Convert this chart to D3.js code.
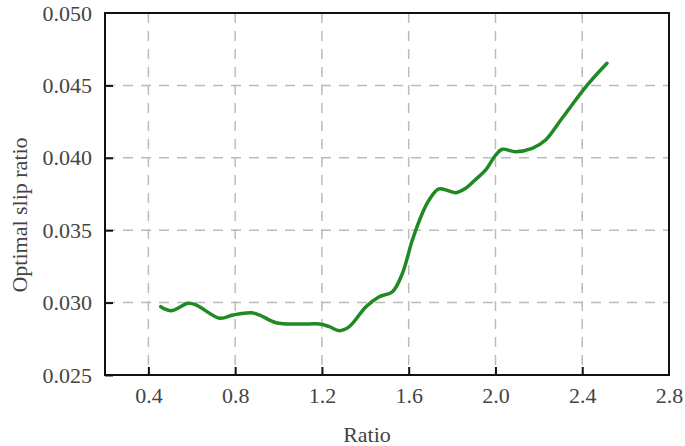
<!DOCTYPE html>
<html>
<head>
<meta charset="utf-8">
<script src="https://cdn.jsdelivr.net/npm/d3@7"></script>
<style>
    body { margin: 0; background: #fff; }
    text { font-family: "Liberation Serif", "Times New Roman", serif; }
</style>
</head>
<body>
<div id="chart"></div>
<script>
// values
const ratio = [0.457, 0.507, 0.583, 0.621, 0.729, 0.79, 0.874, 0.913, 0.989, 1.097, 1.189, 1.234,
    1.28, 1.326, 1.403, 1.464, 1.525, 1.571, 1.617, 1.663, 1.694, 1.74, 1.817, 1.863, 1.909,
    1.955, 2.001, 2.031, 2.093, 2.169, 2.231, 2.307, 2.422, 2.514];
const slip = [0.02972, 0.02944, 0.02995, 0.02983, 0.02892, 0.02914, 0.0293, 0.02914, 0.02861,
    0.02852, 0.02852, 0.02834, 0.02806, 0.02834, 0.02971, 0.03041, 0.03075, 0.03202, 0.03432,
    0.03617, 0.03709, 0.03785, 0.03759, 0.0379, 0.03851, 0.03916, 0.04019, 0.04059, 0.04042,
    0.04065, 0.04123, 0.04273, 0.045, 0.04653];
const xTicks = [0.4, 0.8, 1.2, 1.6, 2.0, 2.4, 2.8];
const yTicks = [0.025, 0.030, 0.035, 0.040, 0.045, 0.050];

const width = 685;
const height = 446;
const margin = { top: 13, right: 16, bottom: 71, left: 105 };

const svg = d3.select("#chart")
    .append("svg")
    .attr("width", width)
    .attr("height", height);

const x = d3.scaleLinear()
    .domain([0.2, 2.8])
    .range([margin.left, width - margin.right]);

const y = d3.scaleLinear()
    .domain([0.025, 0.050])
    .range([height - margin.bottom, margin.top]);

// dashed grid
svg.append("g")
    .selectAll("line")
    .data(xTicks.slice(0, -1))
    .join("line")
    .attr("x1", d => x(d))
    .attr("x2", d => x(d))
    .attr("y1", y(0.050))
    .attr("y2", y(0.025))
    .attr("stroke", "#bbb")
    .attr("stroke-width", 1.5)
    .attr("stroke-dasharray", "10,8");

svg.append("g")
    .selectAll("line")
    .data(yTicks.slice(1, -1))
    .join("line")
    .attr("x1", x(0.2))
    .attr("x2", x(2.8))
    .attr("y1", d => y(d))
    .attr("y2", d => y(d))
    .attr("stroke", "#bbb")
    .attr("stroke-width", 1.5)
    .attr("stroke-dasharray", "10,8");

// axes, ticks pointing inward
const xAxis = svg.append("g")
    .attr("transform", `translate(0,${y(0.025)})`)
    .call(d3.axisBottom(x).tickValues(xTicks).tickFormat(d3.format(".1f")).tickSizeInner(-8).tickSizeOuter(0).tickPadding(12));

const yAxis = svg.append("g")
    .attr("transform", `translate(${x(0.2)},0)`)
    .call(d3.axisLeft(y).tickValues(yTicks).tickFormat(d3.format(".3f")).tickSizeInner(-8).tickSizeOuter(0).tickPadding(13));

[xAxis, yAxis].forEach(g => {
    g.select(".domain").remove();
    g.selectAll(".tick line").attr("stroke", "#111").attr("stroke-width", 2);
    g.selectAll(".tick text")
        .attr("font-size", "22px")
        .attr("fill", "#444")
        .style("font-family", "'Liberation Serif', serif");
});
xAxis.selectAll(".tick").filter(d => d === 2.8).select("line").remove();
yAxis.selectAll(".tick").filter(d => d === 0.050).select("line").remove();

// frame
svg.append("rect")
    .attr("x", x(0.2))
    .attr("y", y(0.050))
    .attr("width", x(2.8) - x(0.2))
    .attr("height", y(0.025) - y(0.050))
    .attr("fill", "none")
    .attr("stroke", "#111")
    .attr("stroke-width", 2);

// the curve
const line = d3.line()
    .x((d, i) => x(ratio[i]))
    .y(d => y(d))
    .curve(d3.curveCatmullRom);

svg.append("path")
    .datum(slip)
    .attr("d", line)
    .attr("fill", "none")
    .attr("stroke", "#1f8a23")
    .attr("stroke-width", 3.5)
    .attr("stroke-linecap", "round")
    .attr("stroke-linejoin", "round");

// axis titles
svg.append("text")
    .attr("x", 367)
    .attr("y", 442)
    .attr("text-anchor", "middle")
    .attr("font-size", "22px")
    .attr("fill", "#444")
    .text("Ratio");

svg.append("text")
    .attr("transform", "translate(27,215) rotate(-90)")
    .attr("text-anchor", "middle")
    .attr("font-size", "22px")
    .attr("fill", "#444")
    .text("Optimal slip ratio");
</script>
</body>
</html>
